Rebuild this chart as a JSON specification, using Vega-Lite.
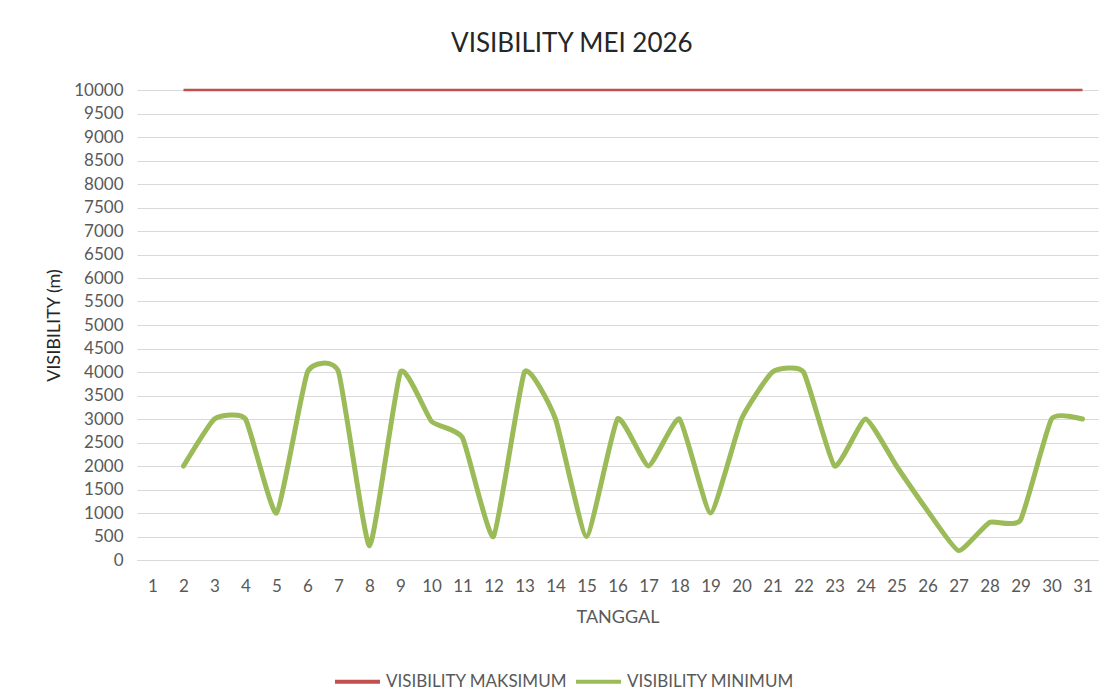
{
  "$schema": "https://vega.github.io/schema/vega-lite/v6.json",
  "autosize": "none",
  "width": 961,
  "height": 470,
  "padding": {"left": 137, "top": 90, "right": 10, "bottom": 132},
  "background": "white",
  "title": {
    "text": "VISIBILITY MEI 2026",
    "font": "Lato",
    "fontSize": 26,
    "fontWeight": "normal",
    "color": "#262626",
    "anchor": "middle",
    "frame": "bounds",
    "offset": 24
  },
  "config": {
    "view": {"stroke": null},
    "font": "Lato"
  },
  "data": {
    "values": [
      {"tanggal": 2, "seri": "VISIBILITY MAKSIMUM", "nilai": 10000},
      {"tanggal": 3, "seri": "VISIBILITY MAKSIMUM", "nilai": 10000},
      {"tanggal": 4, "seri": "VISIBILITY MAKSIMUM", "nilai": 10000},
      {"tanggal": 5, "seri": "VISIBILITY MAKSIMUM", "nilai": 10000},
      {"tanggal": 6, "seri": "VISIBILITY MAKSIMUM", "nilai": 10000},
      {"tanggal": 7, "seri": "VISIBILITY MAKSIMUM", "nilai": 10000},
      {"tanggal": 8, "seri": "VISIBILITY MAKSIMUM", "nilai": 10000},
      {"tanggal": 9, "seri": "VISIBILITY MAKSIMUM", "nilai": 10000},
      {"tanggal": 10, "seri": "VISIBILITY MAKSIMUM", "nilai": 10000},
      {"tanggal": 11, "seri": "VISIBILITY MAKSIMUM", "nilai": 10000},
      {"tanggal": 12, "seri": "VISIBILITY MAKSIMUM", "nilai": 10000},
      {"tanggal": 13, "seri": "VISIBILITY MAKSIMUM", "nilai": 10000},
      {"tanggal": 14, "seri": "VISIBILITY MAKSIMUM", "nilai": 10000},
      {"tanggal": 15, "seri": "VISIBILITY MAKSIMUM", "nilai": 10000},
      {"tanggal": 16, "seri": "VISIBILITY MAKSIMUM", "nilai": 10000},
      {"tanggal": 17, "seri": "VISIBILITY MAKSIMUM", "nilai": 10000},
      {"tanggal": 18, "seri": "VISIBILITY MAKSIMUM", "nilai": 10000},
      {"tanggal": 19, "seri": "VISIBILITY MAKSIMUM", "nilai": 10000},
      {"tanggal": 20, "seri": "VISIBILITY MAKSIMUM", "nilai": 10000},
      {"tanggal": 21, "seri": "VISIBILITY MAKSIMUM", "nilai": 10000},
      {"tanggal": 22, "seri": "VISIBILITY MAKSIMUM", "nilai": 10000},
      {"tanggal": 23, "seri": "VISIBILITY MAKSIMUM", "nilai": 10000},
      {"tanggal": 24, "seri": "VISIBILITY MAKSIMUM", "nilai": 10000},
      {"tanggal": 25, "seri": "VISIBILITY MAKSIMUM", "nilai": 10000},
      {"tanggal": 26, "seri": "VISIBILITY MAKSIMUM", "nilai": 10000},
      {"tanggal": 27, "seri": "VISIBILITY MAKSIMUM", "nilai": 10000},
      {"tanggal": 28, "seri": "VISIBILITY MAKSIMUM", "nilai": 10000},
      {"tanggal": 29, "seri": "VISIBILITY MAKSIMUM", "nilai": 10000},
      {"tanggal": 30, "seri": "VISIBILITY MAKSIMUM", "nilai": 10000},
      {"tanggal": 31, "seri": "VISIBILITY MAKSIMUM", "nilai": 10000},
      {"tanggal": 2, "seri": "VISIBILITY MINIMUM", "nilai": 2000},
      {"tanggal": 3, "seri": "VISIBILITY MINIMUM", "nilai": 3000},
      {"tanggal": 4, "seri": "VISIBILITY MINIMUM", "nilai": 3000},
      {"tanggal": 5, "seri": "VISIBILITY MINIMUM", "nilai": 1000},
      {"tanggal": 6, "seri": "VISIBILITY MINIMUM", "nilai": 4000},
      {"tanggal": 7, "seri": "VISIBILITY MINIMUM", "nilai": 4000},
      {"tanggal": 8, "seri": "VISIBILITY MINIMUM", "nilai": 300},
      {"tanggal": 9, "seri": "VISIBILITY MINIMUM", "nilai": 4000},
      {"tanggal": 10, "seri": "VISIBILITY MINIMUM", "nilai": 2950},
      {"tanggal": 11, "seri": "VISIBILITY MINIMUM", "nilai": 2600},
      {"tanggal": 12, "seri": "VISIBILITY MINIMUM", "nilai": 500},
      {"tanggal": 13, "seri": "VISIBILITY MINIMUM", "nilai": 4000},
      {"tanggal": 14, "seri": "VISIBILITY MINIMUM", "nilai": 3000},
      {"tanggal": 15, "seri": "VISIBILITY MINIMUM", "nilai": 500},
      {"tanggal": 16, "seri": "VISIBILITY MINIMUM", "nilai": 3000},
      {"tanggal": 17, "seri": "VISIBILITY MINIMUM", "nilai": 2000},
      {"tanggal": 18, "seri": "VISIBILITY MINIMUM", "nilai": 3000},
      {"tanggal": 19, "seri": "VISIBILITY MINIMUM", "nilai": 1000},
      {"tanggal": 20, "seri": "VISIBILITY MINIMUM", "nilai": 3000},
      {"tanggal": 21, "seri": "VISIBILITY MINIMUM", "nilai": 4000},
      {"tanggal": 22, "seri": "VISIBILITY MINIMUM", "nilai": 4000},
      {"tanggal": 23, "seri": "VISIBILITY MINIMUM", "nilai": 2000},
      {"tanggal": 24, "seri": "VISIBILITY MINIMUM", "nilai": 3000},
      {"tanggal": 25, "seri": "VISIBILITY MINIMUM", "nilai": 2000},
      {"tanggal": 26, "seri": "VISIBILITY MINIMUM", "nilai": 1050},
      {"tanggal": 27, "seri": "VISIBILITY MINIMUM", "nilai": 200},
      {"tanggal": 28, "seri": "VISIBILITY MINIMUM", "nilai": 800},
      {"tanggal": 29, "seri": "VISIBILITY MINIMUM", "nilai": 850},
      {"tanggal": 30, "seri": "VISIBILITY MINIMUM", "nilai": 3000},
      {"tanggal": 31, "seri": "VISIBILITY MINIMUM", "nilai": 3000}
    ]
  },
  "encoding": {
    "x": {
      "field": "tanggal",
      "type": "ordinal",
      "scale": {"type": "point", "domain": [1,2,3,4,5,6,7,8,9,10,11,12,13,14,15,16,17,18,19,20,21,22,23,24,25,26,27,28,29,30,31], "padding": 0.5},
      "axis": {
        "title": "TANGGAL",
        "titleFont": "Lato",
        "titleFontSize": 18,
        "titleFontWeight": "normal",
        "titleColor": "#595959",
        "titlePadding": 14,
        "labelAngle": 0,
        "labelFont": "Lato",
        "labelFontSize": 17,
        "labelColor": "#595959",
        "labelPadding": 18,
        "ticks": false,
        "domain": true,
        "domainColor": "#d9d9d9",
        "grid": false
      }
    },
    "y": {
      "field": "nilai",
      "type": "quantitative",
      "scale": {"domain": [0, 10000], "nice": false},
      "axis": {
        "title": "VISIBILITY (m)",
        "titleFont": "Lato",
        "titleFontSize": 18,
        "titleFontWeight": "normal",
        "titleColor": "#262626",
        "titlePadding": 10,
        "labelFont": "Lato",
        "labelFontSize": 17,
        "labelColor": "#595959",
        "labelPadding": 14,
        "tickCount": 20,
        "ticks": false,
        "domain": false,
        "grid": true,
        "gridColor": "#d9d9d9",
        "format": "d"
      }
    },
    "color": {
      "field": "seri",
      "type": "nominal",
      "scale": {"domain": ["VISIBILITY MAKSIMUM", "VISIBILITY MINIMUM"], "range": ["#c0504d", "#9bbb59"]},
      "legend": {
        "title": null,
        "orient": "none",
        "direction": "horizontal",
        "legendX": 196,
        "legendY": 567,
        "symbolType": "stroke",
        "symbolSize": 2025,
        "symbolStrokeWidth": 4,
        "labelFont": "Lato",
        "labelFontSize": 17,
        "labelColor": "#595959",
        "labelLimit": 400,
        "labelOffset": 4,
        "columnPadding": 0
      }
    }
  },
  "layer": [
    {
      "transform": [{"filter": "datum.seri === 'VISIBILITY MAKSIMUM'"}],
      "mark": {"type": "line", "strokeWidth": 2.5}
    },
    {
      "transform": [{"filter": "datum.seri === 'VISIBILITY MINIMUM'"}],
      "mark": {"type": "line", "interpolate": "cardinal", "tension": 0.55, "strokeWidth": 5, "strokeCap": "round", "strokeJoin": "round"}
    }
  ]
}
